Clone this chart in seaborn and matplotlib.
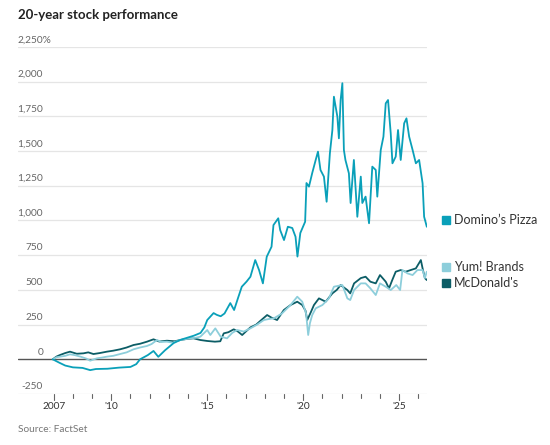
import pandas as pd
import matplotlib.pyplot as plt
import matplotlib.transforms as mtransforms
from matplotlib.patches import Rectangle
import seaborn as sns

sns.set_style("white")
plt.rcParams['font.family'] = ['Lato', 'DejaVu Sans']

# cumulative performance, % since start
dominos_year = [2006.95, 2007.3, 2007.6, 2008.0, 2008.5, 2008.9, 2009.2, 2009.8, 2010.4, 2011.0,
                2011.3, 2011.5, 2011.9, 2012.2, 2012.45, 2012.8, 2013.25, 2013.6, 2013.95, 2014.3,
                2014.65, 2014.85, 2015.0, 2015.33, 2015.5, 2015.7, 2015.9, 2016.2, 2016.4, 2016.6,
                2016.8, 2017.05, 2017.25, 2017.5, 2017.7, 2017.9, 2018.1, 2018.35, 2018.45, 2018.7,
                2018.8, 2019.0, 2019.2, 2019.43, 2019.6, 2019.7, 2019.85, 2020.1, 2020.17, 2020.3,
                2020.47, 2020.65, 2020.77, 2020.9, 2021.08, 2021.22, 2021.39, 2021.52, 2021.6, 2021.78,
                2021.86, 2021.95, 2022.04, 2022.12, 2022.2, 2022.38, 2022.47, 2022.64, 2022.82, 2023.0,
                2023.08, 2023.25, 2023.43, 2023.6, 2023.78, 2023.86, 2024.04, 2024.18, 2024.3, 2024.42,
                2024.56, 2024.65, 2024.82, 2024.94, 2025.08, 2025.26, 2025.38, 2025.52, 2025.7, 2025.87,
                2026.04, 2026.22, 2026.3, 2026.44]
dominos_pct = [0, -25, -45, -58, -62, -78, -70, -68, -60, -55,
               -35, 0, 30, 60, 18, 65, 117, 140, 155, 170,
               190, 230, 283, 333, 320, 310, 330, 405, 355, 440,
               523, 560, 595, 715, 643, 547, 739, 811, 967, 1016,
               931, 859, 955, 946, 883, 740, 910, 991, 1270, 1244,
               1342, 1436, 1496, 1364, 1316, 1135, 1484, 1652, 1892, 1748,
               1592, 1868, 1989, 1508, 1436, 1340, 1126, 1436, 1027, 1316,
               1126, 1172, 980, 1388, 1364, 1172, 1508, 1604, 1844, 1868,
               1628, 1412, 1460, 1652, 1436, 1700, 1736, 1604, 1508, 1412,
               1436, 1268, 1027, 955]

yum_year = [2006.95, 2007.15, 2007.33, 2007.6, 2007.85, 2008.1, 2008.4, 2008.7, 2008.9, 2009.25,
            2009.5, 2009.77, 2010.1, 2010.46, 2010.8, 2011.16, 2011.5, 2011.86, 2012.1, 2012.38,
            2012.6, 2012.9, 2013.2, 2013.6, 2014.1, 2014.4, 2014.64, 2015.0, 2015.16, 2015.42,
            2015.7, 2016.03, 2016.3, 2016.56, 2016.9, 2017.25, 2017.6, 2017.95, 2018.2, 2018.47,
            2018.9, 2019.34, 2019.69, 2019.95, 2020.15, 2020.26, 2020.35, 2020.47, 2020.65, 2021.0,
            2021.34, 2021.6, 2022.04, 2022.3, 2022.45, 2022.65, 2023.0, 2023.25, 2023.5, 2023.78,
            2024.0, 2024.3, 2024.56, 2024.85, 2025.05, 2025.17, 2025.43, 2025.7, 2025.95, 2026.22,
            2026.34, 2026.44]
yum_pct = [0, 15, 19, 25, 36, 30, 19, 5, -10, 7,
           12, 19, 25, 38, 50, 72, 85, 96, 110, 139,
           125, 127, 120, 139, 151, 155, 163, 211, 175, 223,
           163, 151, 190, 211, 200, 223, 250, 283, 290, 295,
           331, 391, 451, 415, 330, 175, 260, 319, 367, 391,
           439, 523, 535, 439, 427, 499, 547, 547, 511, 463,
           547, 523, 499, 535, 499, 643, 619, 607, 643, 643,
           585, 631]

mcd_year = [2006.95, 2007.15, 2007.33, 2007.6, 2007.85, 2008.2, 2008.55, 2008.8, 2009.07, 2009.4,
            2009.77, 2010.1, 2010.46, 2010.8, 2011.16, 2011.5, 2011.86, 2012.2, 2012.5, 2012.9,
            2013.3, 2013.6, 2014.0, 2014.29, 2014.64, 2015.0, 2015.4, 2015.68, 2015.86, 2016.1,
            2016.38, 2016.6, 2016.82, 2017.05, 2017.25, 2017.55, 2017.86, 2018.12, 2018.35, 2018.64,
            2018.99, 2019.34, 2019.69, 2019.95, 2020.12, 2020.21, 2020.4, 2020.56, 2020.82, 2021.17,
            2021.52, 2021.75, 2021.95, 2022.3, 2022.45, 2022.65, 2023.0, 2023.25, 2023.5, 2023.78,
            2024.0, 2024.3, 2024.47, 2024.64, 2024.82, 2025.08, 2025.34, 2025.6, 2025.87, 2026.13,
            2026.22, 2026.34, 2026.44]
mcd_pct = [0, 20, 31, 45, 55, 40, 43, 50, 38, 45,
           55, 62, 72, 85, 103, 112, 127, 144, 128, 134,
           130, 139, 148, 151, 139, 132, 127, 130, 187, 195,
           216, 200, 175, 205, 230, 250, 288, 319, 300, 283,
           355, 391, 415, 391, 350, 283, 340, 391, 439, 415,
           475, 500, 535, 499, 475, 547, 585, 595, 559, 547,
           607, 559, 511, 571, 631, 643, 631, 643, 655, 715,
           655, 585, 571]

companies = ["McDonald's", "Yum! Brands", "Domino\u2019s Pizza"]
colors = {"Domino\u2019s Pizza": "#0aa0b9", "Yum! Brands": "#8dcedb", "McDonald's": "#0c5d66"}
y_ticks = [-250, 0, 250, 500, 750, 1000, 1250, 1500, 1750, 2000, 2250]
x_ticks = list(range(2007, 2027))
x_labels = {2007: "2007", 2010: "'10", 2015: "'15", 2020: "'20", 2025: "'25"}

df = pd.concat([
    pd.DataFrame({"year": mcd_year, "pct": mcd_pct, "company": "McDonald's"}),
    pd.DataFrame({"year": yum_year, "pct": yum_pct, "company": "Yum! Brands"}),
    pd.DataFrame({"year": dominos_year, "pct": dominos_pct, "company": "Domino\u2019s Pizza"}),
])

fig = plt.figure(figsize=(5.5, 4.45), dpi=100)
ax = fig.add_axes([18 / 550, 1 - 394 / 445, 409 / 550, 347 / 445])

sns.lineplot(data=df, x="year", y="pct", hue="company", hue_order=companies,
             palette=colors, estimator=None, linewidth=1.3, legend=False, ax=ax)

ax.set_xlim(2005.14, 2026.45)
ax.set_ylim(-250, 2250)
for s in ax.spines.values():
    s.set_visible(False)
ax.set_xlabel("")
ax.set_ylabel("")
ax.set_yticks([])
ax.set_xticks([])

for v in y_ticks:
    ax.axhline(v, color="#555555" if v == 0 else "#e5e5e5", lw=1.0 if v == 0 else 0.9, zorder=0.5)

# y labels sit above their gridline, right-aligned
trans = mtransforms.blended_transform_factory(ax.transAxes, ax.transData)
for v in y_ticks[:-1]:
    ax.text(25 / 409, v + 20, f"{v:,}", transform=trans, ha="right", va="bottom",
            fontsize=7.3, color="#666666")
ax.text(0, 2250 + 20, "2,250%", transform=trans, ha="left", va="bottom",
        fontsize=7.3, color="#666666")

# x ticks hang below the bottom gridline
for yr in x_ticks:
    ax.plot([yr, yr], [-250, -250 - (40 if yr in x_labels else 28)], color="#666666",
            lw=0.8, clip_on=False)
    if yr in x_labels:
        ax.text(yr, -305, x_labels[yr], ha="center", va="top", fontsize=7.3, color="#333333")

fig.text(18 / 550, 1 - 15 / 445, "20-year stock performance", ha="left", va="center",
         fontsize=9.5, fontweight="bold", color="#222222")
fig.text(18 / 550, 1 - 430 / 445, "Source: FactSet", ha="left", va="center",
         fontsize=7.3, color="#777777")

legend_y = {"Domino\u2019s Pizza": 220, "Yum! Brands": 267, "McDonald's": 283}
for name, py in legend_y.items():
    fig.patches.append(Rectangle((441.5 / 550, 1 - (py + 4) / 445), 8 / 550, 8 / 445,
                                 transform=fig.transFigure, color=colors[name]))
    fig.text(454 / 550, 1 - py / 445, name, ha="left", va="center",
             fontsize=9, color="#333333")

fig.savefig("out.png", dpi=100)
